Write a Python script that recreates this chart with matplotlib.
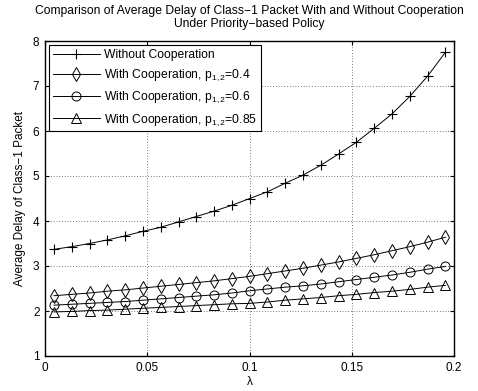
import numpy as np
import matplotlib
matplotlib.use('Agg')
import matplotlib.pyplot as plt

plt.rcParams['font.family'] = ['Liberation Sans', 'DejaVu Sans']
plt.rcParams['mathtext.fontset'] = 'custom'
plt.rcParams['mathtext.rm'] = 'Liberation Sans'
plt.rcParams['mathtext.it'] = 'Liberation Sans:italic'

# arrival rate lambda (23 points)
lam = [0.0044, 0.0131, 0.0218, 0.0305, 0.0392, 0.0479, 0.0566, 0.0653,
       0.0740, 0.0827, 0.0914, 0.1001, 0.1088, 0.1175, 0.1262, 0.1349,
       0.1436, 0.1523, 0.1610, 0.1697, 0.1784, 0.1871, 0.1958]

# average delay of class-1 packet
no_coop = [3.37, 3.43, 3.50, 3.58, 3.67, 3.77, 3.86, 3.98, 4.10, 4.22, 4.35,
           4.50, 4.65, 4.84, 5.02, 5.24, 5.49, 5.75, 6.06, 6.38, 6.77, 7.22, 7.75]
coop_04 = [2.34, 2.37, 2.40, 2.44, 2.47, 2.51, 2.55, 2.59, 2.63, 2.67, 2.72,
           2.77, 2.83, 2.89, 2.95, 3.02, 3.09, 3.17, 3.25, 3.34, 3.43, 3.53, 3.64]
coop_06 = [2.13, 2.15, 2.17, 2.19, 2.21, 2.24, 2.27, 2.30, 2.33, 2.36, 2.40,
           2.45, 2.49, 2.53, 2.56, 2.60, 2.65, 2.70, 2.75, 2.80, 2.86, 2.93, 2.99]
coop_085 = [1.98, 1.99, 2.01, 2.02, 2.04, 2.06, 2.08, 2.10, 2.12, 2.14, 2.16,
            2.17, 2.20, 2.24, 2.27, 2.30, 2.34, 2.37, 2.41, 2.44, 2.48, 2.53, 2.57]

labels = ['Without Cooperation',
          'With Cooperation, p$_{1,2}$=0.4',
          'With Cooperation, p$_{1,2}$=0.6',
          'With Cooperation, p$_{1,2}$=0.85']

fig = plt.figure(figsize=(4.78, 3.91), dpi=100)
ax = fig.add_axes([45/478, 1 - 356/391, 409/478, 315/391])

ax.plot(lam, no_coop, 'k-', marker='+', ms=7.5, mew=0.8, lw=0.7, label=labels[0])
ax.plot(lam, coop_04, 'k-', marker='d', ms=7.5, mfc='none', mew=0.7, lw=0.7, label=labels[1])
ax.plot(lam, coop_06, 'k-', marker='o', ms=6.5, mfc='none', mew=0.7, lw=0.7, label=labels[2])
ax.plot(lam, coop_085, 'k-', marker='^', ms=7, mfc='none', mew=0.7, lw=0.7, label=labels[3])

ax.set_xlim(0, 0.2)
ax.set_ylim(1, 8)
ax.set_xticks([0, 0.05, 0.1, 0.15, 0.2])
ax.set_xticklabels(['0', '0.05', '0.1', '0.15', '0.2'])
ax.set_yticks(range(1, 9))
ax.tick_params(direction='in', top=True, right=True, labelsize=8.5, length=3, pad=4)
ax.grid(True, color='k', linestyle=(0, (1, 3)), linewidth=0.5)
for s in ax.spines.values():
    s.set_linewidth(1.0)

ax.set_xlabel('λ', fontsize=8.5, labelpad=2)
ax.set_ylabel('Average Delay of Class\u22121 Packet', fontsize=8.5, labelpad=5)
ax.set_title('Comparison of Average Delay of Class\u22121 Packet With and Without Cooperation\n'
             'Under Priority\u2212based Policy', fontsize=8.7, pad=10, linespacing=1.1)

leg = ax.legend(loc='upper left', fontsize=8.7, fancybox=False, edgecolor='k',
                handlelength=3.9, labelspacing=0.55, borderpad=0.3,
                handletextpad=0.35, borderaxespad=0.35, framealpha=1)
leg.get_frame().set_linewidth(0.8)

fig.savefig('out.png', dpi=100)
